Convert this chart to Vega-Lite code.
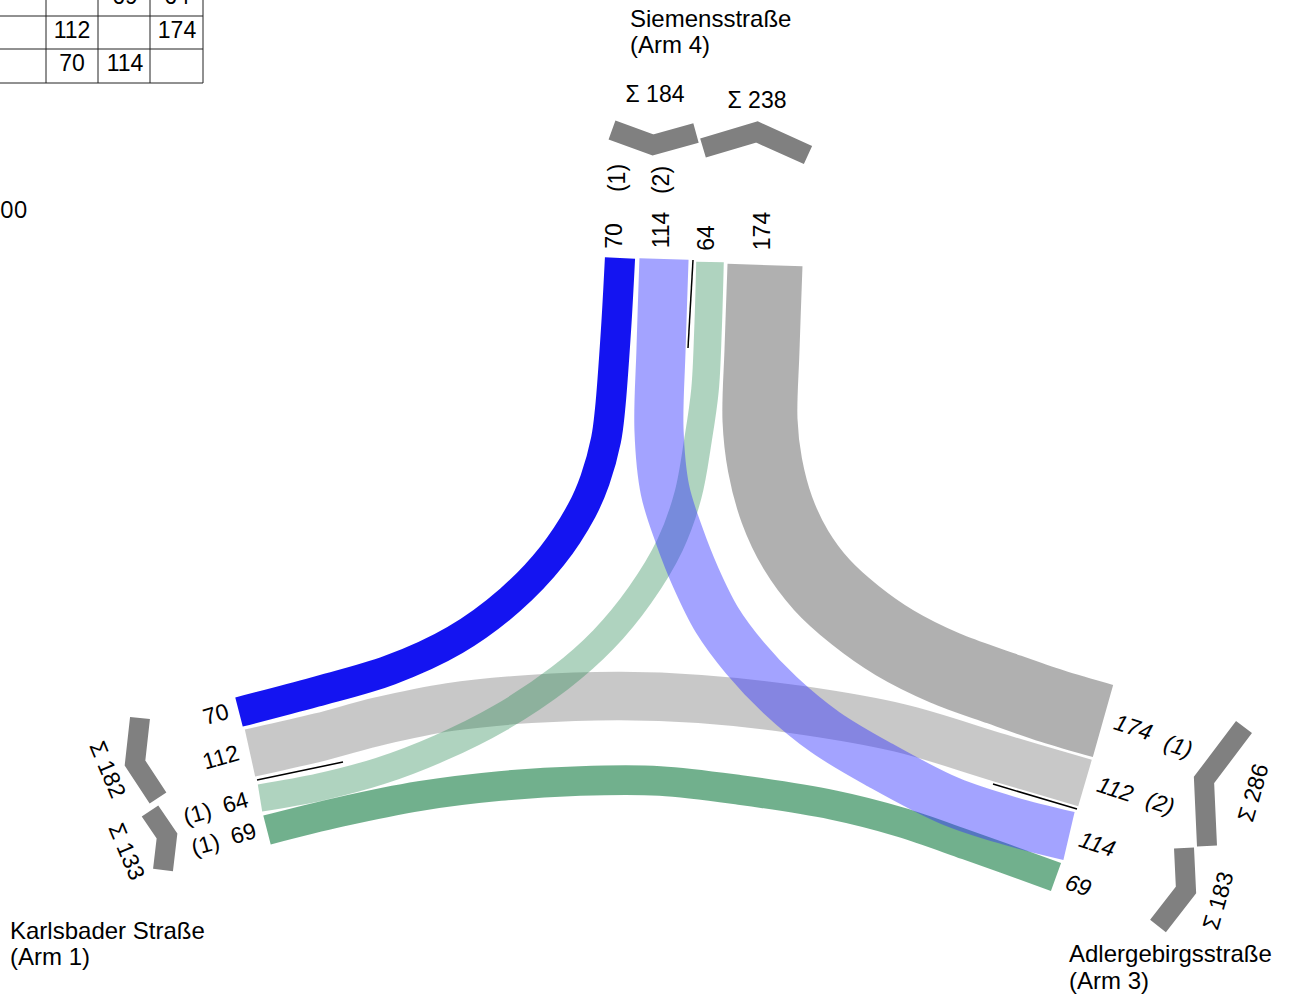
{
  "$schema": "https://vega.github.io/schema/vega-lite/v6.json",
  "width": 1290,
  "height": 995,
  "autosize": {"type": "none"},
  "padding": 0,
  "background": "white",
  "config": {"view": {"stroke": null}, "font": "Liberation Sans"},
  "datasets": {
    "bands": [
      {"band": "k174", "vol": 174, "i": 0, "x": 765, "y": 265},
      {"band": "k174", "vol": 174, "i": 1, "x": 762, "y": 350},
      {"band": "k174", "vol": 174, "i": 2, "x": 760, "y": 420},
      {"band": "k174", "vol": 174, "i": 3, "x": 765, "y": 465},
      {"band": "k174", "vol": 174, "i": 4, "x": 777, "y": 510},
      {"band": "k174", "vol": 174, "i": 5, "x": 796, "y": 550},
      {"band": "k174", "vol": 174, "i": 6, "x": 822, "y": 585},
      {"band": "k174", "vol": 174, "i": 7, "x": 855, "y": 615},
      {"band": "k174", "vol": 174, "i": 8, "x": 895, "y": 643},
      {"band": "k174", "vol": 174, "i": 9, "x": 945, "y": 668},
      {"band": "k174", "vol": 174, "i": 10, "x": 1000, "y": 688},
      {"band": "k174", "vol": 174, "i": 11, "x": 1052, "y": 706},
      {"band": "k174", "vol": 174, "i": 12, "x": 1103, "y": 721},

      {"band": "k112", "vol": 112, "i": 0, "x": 250, "y": 753},
      {"band": "k112", "vol": 112, "i": 1, "x": 320, "y": 737},
      {"band": "k112", "vol": 112, "i": 2, "x": 380, "y": 721},
      {"band": "k112", "vol": 112, "i": 3, "x": 450, "y": 707},
      {"band": "k112", "vol": 112, "i": 4, "x": 530, "y": 699},
      {"band": "k112", "vol": 112, "i": 5, "x": 620, "y": 696},
      {"band": "k112", "vol": 112, "i": 6, "x": 700, "y": 699},
      {"band": "k112", "vol": 112, "i": 7, "x": 800, "y": 710},
      {"band": "k112", "vol": 112, "i": 8, "x": 900, "y": 728},
      {"band": "k112", "vol": 112, "i": 9, "x": 1000, "y": 758},
      {"band": "k112", "vol": 112, "i": 10, "x": 1085, "y": 783},

      {"band": "g69", "vol": 69, "i": 0, "x": 267, "y": 830},
      {"band": "g69", "vol": 69, "i": 1, "x": 340, "y": 812},
      {"band": "g69", "vol": 69, "i": 2, "x": 420, "y": 796},
      {"band": "g69", "vol": 69, "i": 3, "x": 500, "y": 786},
      {"band": "g69", "vol": 69, "i": 4, "x": 580, "y": 781},
      {"band": "g69", "vol": 69, "i": 5, "x": 660, "y": 781},
      {"band": "g69", "vol": 69, "i": 6, "x": 740, "y": 790},
      {"band": "g69", "vol": 69, "i": 7, "x": 833, "y": 805},
      {"band": "g69", "vol": 69, "i": 8, "x": 900, "y": 822},
      {"band": "g69", "vol": 69, "i": 9, "x": 967, "y": 845},
      {"band": "g69", "vol": 69, "i": 10, "x": 1056, "y": 877},

      {"band": "g64", "vol": 64, "i": 0, "x": 710, "y": 262},
      {"band": "g64", "vol": 64, "i": 1, "x": 708, "y": 330},
      {"band": "g64", "vol": 64, "i": 2, "x": 705, "y": 390},
      {"band": "g64", "vol": 64, "i": 3, "x": 698, "y": 440},
      {"band": "g64", "vol": 64, "i": 4, "x": 688, "y": 495},
      {"band": "g64", "vol": 64, "i": 5, "x": 670, "y": 545},
      {"band": "g64", "vol": 64, "i": 6, "x": 640, "y": 595},
      {"band": "g64", "vol": 64, "i": 7, "x": 603, "y": 640},
      {"band": "g64", "vol": 64, "i": 8, "x": 560, "y": 678},
      {"band": "g64", "vol": 64, "i": 9, "x": 500, "y": 718},
      {"band": "g64", "vol": 64, "i": 10, "x": 440, "y": 748},
      {"band": "g64", "vol": 64, "i": 11, "x": 380, "y": 771},
      {"band": "g64", "vol": 64, "i": 12, "x": 320, "y": 787},
      {"band": "g64", "vol": 64, "i": 13, "x": 260, "y": 798},

      {"band": "b114", "vol": 114, "i": 0, "x": 664, "y": 259},
      {"band": "b114", "vol": 114, "i": 1, "x": 661, "y": 350},
      {"band": "b114", "vol": 114, "i": 2, "x": 659, "y": 430},
      {"band": "b114", "vol": 114, "i": 3, "x": 665, "y": 490},
      {"band": "b114", "vol": 114, "i": 4, "x": 679, "y": 535},
      {"band": "b114", "vol": 114, "i": 5, "x": 696, "y": 578},
      {"band": "b114", "vol": 114, "i": 6, "x": 717, "y": 620},
      {"band": "b114", "vol": 114, "i": 7, "x": 745, "y": 658},
      {"band": "b114", "vol": 114, "i": 8, "x": 780, "y": 695},
      {"band": "b114", "vol": 114, "i": 9, "x": 825, "y": 732},
      {"band": "b114", "vol": 114, "i": 10, "x": 880, "y": 765},
      {"band": "b114", "vol": 114, "i": 11, "x": 950, "y": 801},
      {"band": "b114", "vol": 114, "i": 12, "x": 1010, "y": 821},
      {"band": "b114", "vol": 114, "i": 13, "x": 1069, "y": 836},

      {"band": "b70", "vol": 70, "i": 0, "x": 620, "y": 258},
      {"band": "b70", "vol": 70, "i": 1, "x": 616, "y": 330},
      {"band": "b70", "vol": 70, "i": 2, "x": 610, "y": 410},
      {"band": "b70", "vol": 70, "i": 3, "x": 606, "y": 440},
      {"band": "b70", "vol": 70, "i": 4, "x": 595, "y": 480},
      {"band": "b70", "vol": 70, "i": 5, "x": 582, "y": 510},
      {"band": "b70", "vol": 70, "i": 6, "x": 552, "y": 556},
      {"band": "b70", "vol": 70, "i": 7, "x": 510, "y": 600},
      {"band": "b70", "vol": 70, "i": 8, "x": 455, "y": 640},
      {"band": "b70", "vol": 70, "i": 9, "x": 390, "y": 670},
      {"band": "b70", "vol": 70, "i": 10, "x": 315, "y": 692},
      {"band": "b70", "vol": 70, "i": 11, "x": 239, "y": 712}
    ],
    "chevrons": [
      {"sum": "184", "i": 0, "x": 612, "y": 130},
      {"sum": "184", "i": 1, "x": 653, "y": 145},
      {"sum": "184", "i": 2, "x": 696, "y": 133},
      {"sum": "238", "i": 0, "x": 703, "y": 148},
      {"sum": "238", "i": 1, "x": 757, "y": 132},
      {"sum": "238", "i": 2, "x": 808, "y": 155},
      {"sum": "182", "i": 0, "x": 140, "y": 718},
      {"sum": "182", "i": 1, "x": 135, "y": 763},
      {"sum": "182", "i": 2, "x": 158, "y": 798},
      {"sum": "133", "i": 0, "x": 150, "y": 811},
      {"sum": "133", "i": 1, "x": 167, "y": 836},
      {"sum": "133", "i": 2, "x": 163, "y": 870},
      {"sum": "286", "i": 0, "x": 1244, "y": 727},
      {"sum": "286", "i": 1, "x": 1204, "y": 780},
      {"sum": "286", "i": 2, "x": 1207, "y": 846},
      {"sum": "183", "i": 0, "x": 1184, "y": 848},
      {"sum": "183", "i": 1, "x": 1186, "y": 890},
      {"sum": "183", "i": 2, "x": 1158, "y": 926}
    ],
    "seps": [
      {"x": 693, "y": 260, "x2": 688, "y2": 348},
      {"x": 257, "y": 780, "x2": 343, "y2": 762},
      {"x": 993, "y": 784, "x2": 1077, "y2": 809}
    ],
    "grid": [
      {"x": 0, "y": 16, "x2": 203, "y2": 16},
      {"x": 0, "y": 49, "x2": 203, "y2": 49},
      {"x": 0, "y": 83, "x2": 203, "y2": 83},
      {"x": 46, "y": 0, "x2": 46, "y2": 83},
      {"x": 98, "y": 0, "x2": 98, "y2": 83},
      {"x": 150, "y": 0, "x2": 150, "y2": 83},
      {"x": 203, "y": 0, "x2": 203, "y2": 83}
    ],
    "labels": [
      {"grp": "head", "t": "Siemensstraße", "x": 630, "y": 20},
      {"grp": "head", "t": "(Arm 4)", "x": 630, "y": 46},
      {"grp": "head", "t": "Karlsbader Straße", "x": 10, "y": 932},
      {"grp": "head", "t": "(Arm 1)", "x": 10, "y": 958},
      {"grp": "head", "t": "Adlergebirgsstraße", "x": 1069, "y": 955},
      {"grp": "head", "t": "(Arm 3)", "x": 1069, "y": 982},
      {"grp": "misc", "t": "00", "x": 0, "y": 211},
      {"grp": "top", "t": "(1)", "x": 618, "y": 178},
      {"grp": "top", "t": "(2)", "x": 662, "y": 180},
      {"grp": "top", "t": "70", "x": 615, "y": 236},
      {"grp": "top", "t": "114", "x": 662, "y": 230},
      {"grp": "top", "t": "64", "x": 707, "y": 238},
      {"grp": "top", "t": "174", "x": 763, "y": 231},
      {"grp": "sum", "t": "Σ 184", "x": 655, "y": 95},
      {"grp": "sum", "t": "Σ 238", "x": 757, "y": 101},
      {"grp": "left", "t": "70", "x": 216, "y": 715},
      {"grp": "left", "t": "112", "x": 221, "y": 758},
      {"grp": "left", "t": "(1)\u00a0 64", "x": 216, "y": 809},
      {"grp": "left", "t": "(1)\u00a0 69", "x": 224, "y": 840},
      {"grp": "lsum", "t": "Σ 182", "x": 107, "y": 770},
      {"grp": "lsum", "t": "Σ 133", "x": 126, "y": 852},
      {"grp": "right", "t": "174", "x": 1133, "y": 728},
      {"grp": "right", "t": "(1)", "x": 1178, "y": 747},
      {"grp": "right", "t": "112", "x": 1115, "y": 790},
      {"grp": "right", "t": "(2)", "x": 1160, "y": 804},
      {"grp": "right", "t": "114", "x": 1097, "y": 845},
      {"grp": "right", "t": "69", "x": 1078, "y": 886},
      {"grp": "rsum", "t": "Σ 286", "x": 1254, "y": 793},
      {"grp": "rsum", "t": "Σ 183", "x": 1219, "y": 901},
      {"grp": "table", "t": "69", "x": 125, "y": -3},
      {"grp": "table", "t": "64", "x": 177, "y": -3},
      {"grp": "table", "t": "112", "x": 72, "y": 31},
      {"grp": "table", "t": "174", "x": 177, "y": 31},
      {"grp": "table", "t": "70", "x": 72, "y": 64},
      {"grp": "table", "t": "114", "x": 125, "y": 64}
    ]
  },
  "encoding": {
    "x": {"field": "x", "type": "quantitative", "scale": {"domain": [0, 1290], "nice": false, "zero": false}, "axis": null},
    "y": {"field": "y", "type": "quantitative", "scale": {"domain": [0, 995], "nice": false, "zero": false, "reverse": true}, "axis": null}
  },
  "layer": [
    {
      "data": {"name": "bands"},
      "mark": {"type": "line", "interpolate": "catmull-rom", "strokeCap": "butt", "strokeJoin": "round"},
      "encoding": {
        "order": {"field": "i", "type": "quantitative"},
        "color": {"field": "band", "type": "nominal", "legend": null,
          "scale": {"domain": ["k174", "k112", "g69", "g64", "b114", "b70"],
                    "range": ["rgba(150,150,150,0.75)", "rgba(150,150,150,0.52)", "rgba(46,139,87,0.68)", "rgba(46,139,87,0.38)", "rgba(50,50,255,0.45)", "rgba(10,10,240,0.96)"]}},
        "strokeWidth": {"field": "vol", "type": "quantitative", "legend": null, "scale": {"domain": [0, 174], "range": [0, 75]}}
      }
    },
    {
      "data": {"name": "chevrons"},
      "mark": {"type": "line", "color": "#808080", "strokeWidth": 20, "strokeCap": "butt", "strokeJoin": "miter"},
      "encoding": {
        "order": {"field": "i", "type": "quantitative"},
        "detail": {"field": "sum", "type": "nominal"}
      }
    },
    {
      "data": {"name": "seps"},
      "mark": {"type": "rule", "color": "black", "strokeWidth": 1.5},
      "encoding": {"x2": {"field": "x2"}, "y2": {"field": "y2"}}
    },
    {
      "data": {"name": "grid"},
      "mark": {"type": "rule", "color": "#222222", "strokeWidth": 1},
      "encoding": {"x2": {"field": "x2"}, "y2": {"field": "y2"}}
    },
    {
      "data": {"name": "labels"},
      "transform": [{"filter": "datum.grp === 'head'"}],
      "mark": {"type": "text", "align": "left", "baseline": "middle", "fontSize": 24, "color": "black"},
      "encoding": {"text": {"field": "t"}}
    },
    {
      "data": {"name": "labels"},
      "transform": [{"filter": "datum.grp === 'misc'"}],
      "mark": {"type": "text", "align": "left", "baseline": "middle", "fontSize": 24, "font": "Open Sans", "color": "black"},
      "encoding": {"text": {"field": "t"}}
    },
    {
      "data": {"name": "labels"},
      "transform": [{"filter": "datum.grp === 'top'"}],
      "mark": {"type": "text", "align": "center", "baseline": "middle", "fontSize": 23, "angle": 270, "color": "black"},
      "encoding": {"text": {"field": "t"}}
    },
    {
      "data": {"name": "labels"},
      "transform": [{"filter": "datum.grp === 'sum' || datum.grp === 'table'"}],
      "mark": {"type": "text", "align": "center", "baseline": "middle", "fontSize": 23, "color": "black"},
      "encoding": {"text": {"field": "t"}}
    },
    {
      "data": {"name": "labels"},
      "transform": [{"filter": "datum.grp === 'left'"}],
      "mark": {"type": "text", "align": "center", "baseline": "middle", "fontSize": 23, "angle": 344, "color": "black"},
      "encoding": {"text": {"field": "t"}}
    },
    {
      "data": {"name": "labels"},
      "transform": [{"filter": "datum.grp === 'lsum'"}],
      "mark": {"type": "text", "align": "center", "baseline": "middle", "fontSize": 23, "angle": 67, "color": "black"},
      "encoding": {"text": {"field": "t"}}
    },
    {
      "data": {"name": "labels"},
      "transform": [{"filter": "datum.grp === 'right'"}],
      "mark": {"type": "text", "align": "center", "baseline": "middle", "fontSize": 23, "fontStyle": "italic", "angle": 18, "color": "black"},
      "encoding": {"text": {"field": "t"}}
    },
    {
      "data": {"name": "labels"},
      "transform": [{"filter": "datum.grp === 'rsum'"}],
      "mark": {"type": "text", "align": "center", "baseline": "middle", "fontSize": 23, "angle": 286, "color": "black"},
      "encoding": {"text": {"field": "t"}}
    }
  ]
}
